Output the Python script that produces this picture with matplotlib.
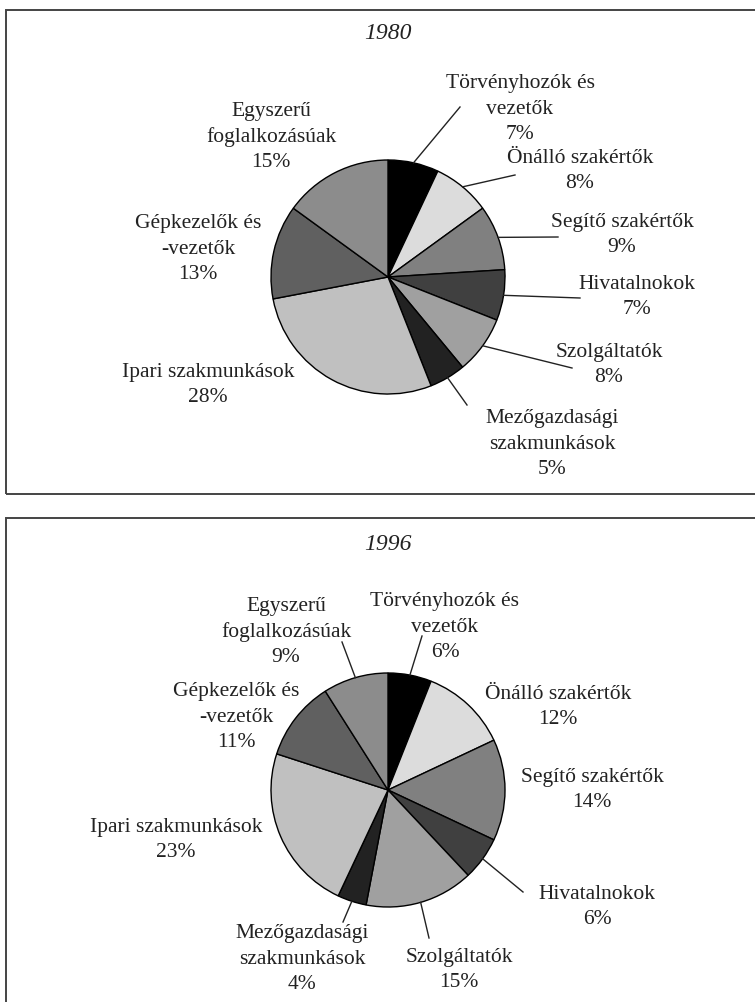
import numpy as np
import matplotlib
matplotlib.use("Agg")
import matplotlib.pyplot as plt
from matplotlib.patches import Rectangle

plt.rcParams['font.family'] = ['Liberation Serif', 'DejaVu Serif']

# data (clockwise from 12 o'clock)
categories = ["Törvényhozók és\nvezetők", "Önálló szakértők", "Segítő szakértők",
              "Hivatalnokok", "Szolgáltatók", "Mezőgazdasági\nszakmunkások",
              "Ipari szakmunkások", "Gépkezelők és\n-vezetők", "Egyszerű\nfoglalkozásúak"]
shares_1980 = [7, 8, 9, 7, 8, 5, 28, 13, 15]
shares_1996 = [6, 12, 14, 6, 15, 4, 23, 11, 9]
years = ["1980", "1996"]
colors = ["#000000", "#dcdcdc", "#808080", "#404040", "#a0a0a0",
          "#222222", "#c0c0c0", "#606060", "#8c8c8c"]

# layout, pixels from the top-left corner
W, H = 755, 1002
panels = [
    dict(box=(6, 10, 494), title_y=33, center=(388, 277),
         label_xy=[(520, 109), (580, 171), (622, 235), (637, 297), (609, 365),
                   (552, 444), (208, 385), (198, 249), (271, 137)],
         leader_end=[(460, 107), (515, 175), (558, 237), (580, 298), (572, 368),
                     (467, 405), None, None, None]),
    dict(box=(6, 518, 1010), title_y=545, center=(388, 790),
         label_xy=[(445, 627), (558, 707), (592, 790), (597, 907), (459, 970),
                   (302, 959), (176, 840), (236, 717), (286, 632)],
         leader_end=[(422, 636), None, None, (523, 892), (429, 938),
                     (343, 922), None, None, (342, 642)]),
]
radius = 117

fig = plt.figure(figsize=(W / 100, H / 100), dpi=100)
ax = fig.add_axes([0, 0, 1, 1])

for year, shares, p in zip(years, [shares_1980, shares_1996], panels):
    x0, top, bottom = p['box']
    ax.add_patch(Rectangle((x0, H - bottom), W + 20 - x0, bottom - top,
                           fill=False, edgecolor='#444444', linewidth=1.4))
    ax.text(p['center'][0], H - p['title_y'], year, ha='center', va='center',
            fontsize=17, style='italic', color='#222222')
    cx, cy = p['center'][0], H - p['center'][1]
    wedges, _ = ax.pie(shares, colors=colors, startangle=90, counterclock=False,
                       center=(cx, cy), radius=radius,
                       wedgeprops=dict(edgecolor='black', linewidth=1.0))
    for w, cat, val, (lx, ly), end in zip(wedges, categories, shares,
                                          p['label_xy'], p['leader_end']):
        ax.text(lx, H - ly, f"{cat}\n{val}%", ha='center', va='center',
                fontsize=15.5, linespacing=1.45, color='#222222')
        if end is not None:
            ang = np.deg2rad((w.theta1 + w.theta2) / 2)
            sx, sy = cx + radius * np.cos(ang), cy + radius * np.sin(ang)
            ax.plot([sx, end[0]], [sy, H - end[1]], color='#222222', linewidth=1.0)

ax.set_xlim(0, W)
ax.set_ylim(0, H)
ax.set_aspect('auto')
ax.axis('off')

fig.savefig("out.png", dpi=100)
